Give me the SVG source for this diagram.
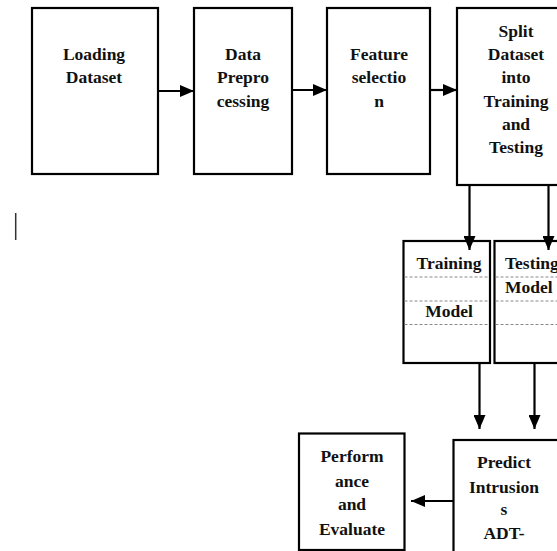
<svg xmlns="http://www.w3.org/2000/svg" width="557" height="551" viewBox="0 0 557 551">
<style>
.box{fill:#fff;stroke:#000;stroke-width:2.2}
.t{font-family:"Liberation Serif","Times New Roman",serif;font-weight:bold;font-size:17.5px;fill:#111;text-anchor:middle}
.tl{font-family:"Liberation Serif","Times New Roman",serif;font-weight:bold;font-size:17.5px;fill:#111}
.c{stroke:#000;stroke-width:2.2;fill:none}
.d{stroke:#888;stroke-width:1;stroke-dasharray:3,2;fill:none}
</style>
<defs>
<marker id="ah" markerWidth="14" markerHeight="12" refX="14" refY="6" orient="auto" markerUnits="userSpaceOnUse">
<path d="M0,0 L14,6 L0,12 Z" fill="#000"/>
</marker>
</defs>
<rect width="557" height="551" fill="#fff"/>
<g id="loading">
<rect class="box" x="32" y="8" width="126" height="166"/>
<text class="t" x="94" y="60">Loading</text>
<text class="t" x="94" y="83">Dataset</text>
</g>
<g id="preprocessing">
<rect class="box" x="194" y="8" width="98" height="166"/>
<text class="t" x="243" y="60">Data</text>
<text class="t" x="243" y="83">Prepro</text>
<text class="t" x="243" y="107">cessing</text>
</g>
<g id="feature">
<rect class="box" x="327" y="8" width="103" height="166"/>
<text class="t" x="379" y="60">Feature</text>
<text class="t" x="379" y="83">selectio</text>
<text class="t" x="379" y="107">n</text>
</g>
<g id="split">
<rect class="box" x="457" y="8" width="110" height="177"/>
<text class="t" x="516" y="37">Split</text>
<text class="t" x="516" y="60">Dataset</text>
<text class="t" x="516" y="83">into</text>
<text class="t" x="516" y="107">Training</text>
<text class="t" x="516" y="130">and</text>
<text class="t" x="516" y="153">Testing</text>
</g>
<g id="training">
<rect class="box" x="403.5" y="241" width="86.5" height="122"/>
<line class="d" x1="404.5" y1="277" x2="489" y2="277"/>
<line class="d" x1="404.5" y1="301" x2="489" y2="301"/>
<line class="d" x1="404.5" y1="324.5" x2="489" y2="324.5"/>
<text class="t" x="449" y="269">Training</text>
<text class="t" x="449" y="317">Model</text>
</g>
<g id="testing">
<rect class="box" x="494.5" y="241" width="70" height="122"/>
<line class="d" x1="495.5" y1="277" x2="557" y2="277"/>
<line class="d" x1="495.5" y1="301" x2="557" y2="301"/>
<line class="d" x1="495.5" y1="324.5" x2="557" y2="324.5"/>
<text class="tl" x="505" y="269">Testing</text>
<text class="tl" x="505" y="293">Model</text>
</g>
<g id="predict">
<rect class="box" x="453.5" y="440" width="110" height="120"/>
<text class="t" x="504" y="468">Predict</text>
<text class="t" x="504" y="493">Intrusion</text>
<text class="t" x="504" y="515">s</text>
<text class="t" x="504" y="539">ADT-</text>
</g>
<g id="performance">
<rect class="box" x="299" y="433.5" width="105.5" height="116.5"/>
<text class="t" x="352" y="462">Perform</text>
<text class="t" x="352" y="487">ance</text>
<text class="t" x="352" y="510">and</text>
<text class="t" x="352" y="535">Evaluate</text>
</g>
<g id="connectors">
<line class="c" x1="158" y1="91" x2="194" y2="91" marker-end="url(#ah)"/>
<line class="c" x1="292" y1="90" x2="327" y2="90" marker-end="url(#ah)"/>
<line class="c" x1="430" y1="90" x2="457" y2="90" marker-end="url(#ah)"/>
<line class="c" x1="469.5" y1="185" x2="469.5" y2="250" marker-end="url(#ah)"/>
<line class="c" x1="548.5" y1="185" x2="548.5" y2="250" marker-end="url(#ah)"/>
<line class="c" x1="479.5" y1="363" x2="479.5" y2="429" marker-end="url(#ah)"/>
<line class="c" x1="534.5" y1="363" x2="534.5" y2="429" marker-end="url(#ah)"/>
<line class="c" x1="453" y1="501" x2="411" y2="501" marker-end="url(#ah)"/>
</g>
<line x1="15.7" y1="213" x2="15.7" y2="240" stroke="#333" stroke-width="1.5"/>
</svg>
